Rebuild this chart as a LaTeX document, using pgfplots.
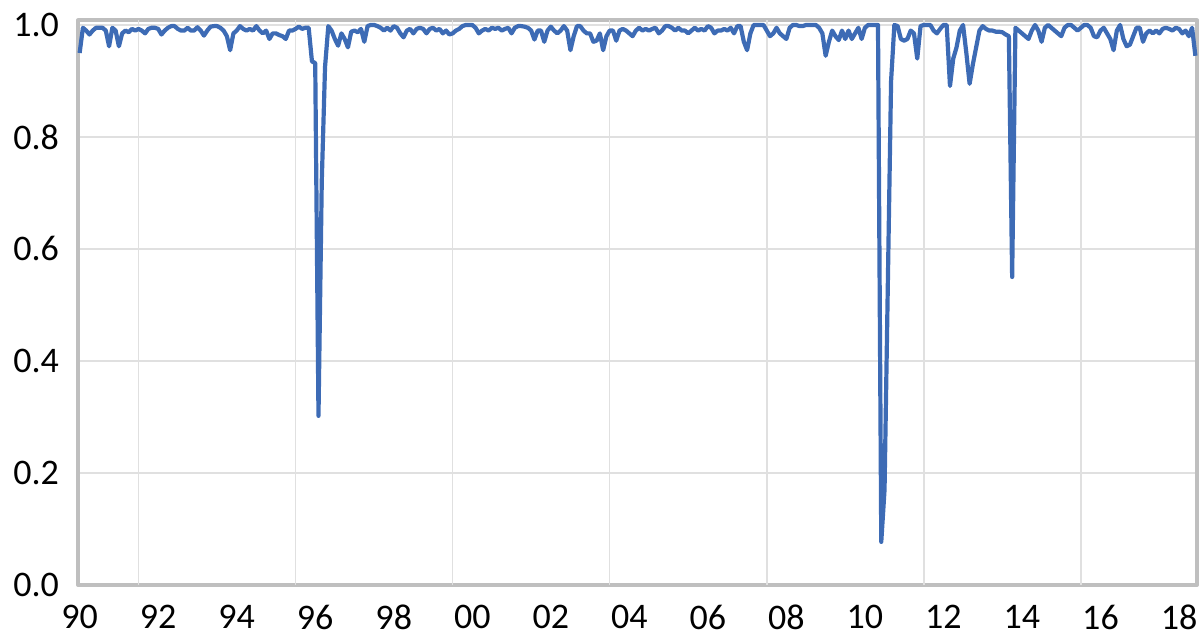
\documentclass[border=0pt]{standalone}
\usepackage{pgfplots}
\pgfplotsset{compat=1.18}
\usepackage{pgfplotstable}
\usepackage{fontspec}
\setmainfont{Carlito}
\definecolor{lineblue}{RGB}{61,107,181}
\definecolor{axgray}{RGB}{191,191,191}
\definecolor{gridgray}{RGB}{224,224,224}
\pgfplotstableread{
m v
0 0.950
1 0.995
2 0.990
3 0.983
4 0.990
5 0.995
6 0.995
7 0.995
8 0.990
9 0.962
10 0.995
11 0.990
12 0.962
13 0.985
14 0.990
15 0.987
16 0.993
17 0.990
18 0.993
19 0.990
20 0.985
21 0.993
22 0.995
23 0.995
24 0.993
25 0.983
26 0.990
27 0.995
28 0.998
29 0.998
30 0.993
31 0.990
32 0.990
33 0.995
34 0.990
35 0.990
36 0.996
37 0.990
38 0.981
39 0.990
40 0.997
41 0.998
42 0.998
43 0.995
44 0.990
45 0.980
46 0.955
47 0.985
48 0.990
49 0.998
50 0.993
51 0.990
52 0.993
53 0.990
54 0.998
55 0.990
56 0.985
57 0.990
58 0.975
59 0.985
60 0.985
61 0.982
62 0.980
63 0.975
64 0.990
65 0.990
66 0.993
67 0.997
68 0.993
69 0.995
70 0.995
71 0.935
72 0.932
73 0.302
74 0.720
75 0.925
76 0.998
77 0.990
78 0.975
79 0.963
80 0.985
81 0.975
82 0.960
83 0.988
84 0.990
85 0.987
86 0.993
87 0.970
88 0.998
89 1.000
90 1.000
91 0.998
92 0.995
93 0.990
94 0.995
95 0.990
96 0.998
97 0.995
98 0.985
99 0.978
100 0.990
101 0.993
102 0.985
103 0.993
104 0.995
105 0.993
106 0.985
107 0.993
108 0.995
109 0.990
110 0.993
111 0.985
112 0.990
113 0.983
114 0.985
115 0.990
116 0.993
117 0.998
118 1.000
119 1.000
120 1.000
121 0.995
122 0.985
123 0.990
124 0.993
125 0.990
126 0.995
127 0.993
128 0.995
129 0.990
130 0.993
131 0.995
132 0.985
133 0.995
134 0.998
135 0.998
136 0.997
137 0.995
138 0.990
139 0.974
140 0.990
141 0.990
142 0.970
143 0.990
144 0.997
145 0.990
146 0.985
147 0.990
148 0.998
149 0.990
150 0.955
151 0.980
152 0.998
153 0.998
154 0.990
155 0.985
156 0.985
157 0.970
158 0.972
159 0.985
160 0.955
161 0.980
162 0.990
163 0.990
164 0.972
165 0.990
166 0.993
167 0.990
168 0.985
169 0.980
170 0.990
171 0.995
172 0.990
173 0.993
174 0.990
175 0.993
176 0.995
177 0.985
178 0.990
179 0.998
180 0.998
181 0.995
182 0.990
183 0.995
184 0.990
185 0.990
186 0.985
187 0.990
188 0.995
189 0.990
190 0.993
191 0.990
192 0.998
193 0.995
194 0.985
195 0.990
196 0.990
197 0.993
198 0.990
199 0.995
200 0.985
201 0.998
202 0.998
203 0.970
204 0.955
205 0.985
206 1.000
207 1.000
208 1.000
209 1.000
210 0.990
211 0.980
212 0.985
213 0.995
214 0.985
215 0.980
216 0.975
217 0.995
218 1.000
219 1.000
220 0.998
221 0.998
222 1.000
223 1.000
224 1.000
225 1.000
226 0.995
227 0.985
228 0.945
229 0.970
230 0.990
231 0.980
232 0.973
233 0.990
234 0.975
235 0.990
236 0.975
237 0.985
238 0.995
239 0.975
240 0.995
241 1.000
242 1.000
243 1.000
244 1.000
245 0.077
246 0.170
247 0.535
248 0.900
249 1.000
250 0.998
251 0.975
252 0.972
253 0.975
254 0.990
255 0.985
256 0.940
257 0.998
258 1.000
259 1.000
260 1.000
261 0.990
262 0.985
263 0.993
264 1.000
265 1.000
266 0.891
267 0.940
268 0.960
269 0.990
270 1.000
271 0.950
272 0.895
273 0.930
274 0.960
275 0.990
276 0.998
277 0.993
278 0.990
279 0.990
280 0.988
281 0.988
282 0.987
283 0.983
284 0.980
285 0.550
286 0.995
287 0.990
288 0.985
289 0.980
290 0.975
291 0.990
292 1.000
293 0.990
294 0.970
295 0.995
296 1.000
297 0.995
298 0.990
299 0.985
300 0.980
301 0.995
302 1.000
303 1.000
304 0.995
305 0.990
306 0.995
307 1.000
308 1.000
309 0.995
310 0.980
311 0.978
312 0.990
313 0.995
314 0.985
315 0.975
316 0.955
317 0.990
318 1.000
319 0.975
320 0.962
321 0.965
322 0.980
323 0.995
324 0.995
325 0.970
326 0.985
327 0.990
328 0.985
329 0.990
330 0.985
331 0.993
332 0.995
333 0.993
334 0.990
335 0.995
336 0.993
337 0.985
338 0.990
339 0.980
340 0.995
341 0.945
}\series
\begin{document}
\begin{tikzpicture}
\begin{axis}[
  name=ax,
  scale only axis,
  width=559.5pt, height=282.24pt,
  xmin=-0.5, xmax=341.5,
  ymin=0, ymax=1.008,
  clip=false,
  axis line style={draw=axgray, line width=2pt, line join=round},
  major tick length=0pt,
  xtick={0,24,48,72,96,120,144,168,192,216,240,264,288,312,336},
  xticklabels={90,92,94,96,98,00,02,04,06,08,10,12,14,16,18},
  extra x ticks={18,66,114,162,210,258,306},
  extra x tick labels={},
  extra x tick style={grid=major, major grid style={draw=gridgray, line width=0.75pt}},
  ytick={0,0.2,0.4,0.6,0.8,1.0},
  ymajorgrids,
  major grid style={draw=gridgray, line width=0.75pt},
  tick label style={font=\fontsize{18}{21}\selectfont, text=black},
  yticklabel style={/pgf/number format/fixed, /pgf/number format/fixed zerofill, /pgf/number format/precision=1, /pgf/number format/assume math mode=true, xshift=-6pt},
  xticklabel style={yshift=-6.5pt},
]
\addplot[lineblue, line width=2.1pt, line join=round, mark=none] table[x=m, y=v] {\series};
\end{axis}
\pgfresetboundingbox
\path[use as bounding box] ([shift={(-39pt,-27pt)}]ax.south west) rectangle ([shift={(3.5pt,10.25pt)}]ax.north east);
\end{tikzpicture}
\end{document}
